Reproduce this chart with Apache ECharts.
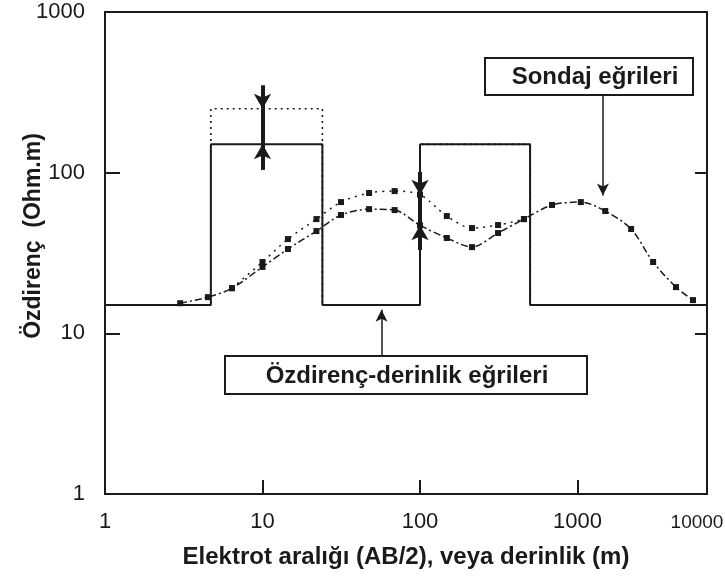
<!DOCTYPE html>
<html>
<head>
<meta charset="utf-8">
<script src="https://cdn.jsdelivr.net/npm/echarts@6/dist/echarts.min.js"></script>
<style>
  html, body { margin: 0; padding: 0; background: #fff; }
  #chart { width: 725px; height: 583px; }
</style>
</head>
<body>
<div id="chart"></div>
<script>
// axis extents (the scan's last decade is cut short, labelled 10000 at the frame edge)
const xMin = 1;
const xMax = 6640;
const yMin = 1;
const yMax = 1000;

// layered models: layer boundaries (m) and resistivities (Ohm.m)
const modelDepth = [1, 4.7, 24, 100, 500, xMax];
const modelRes = [15, 150, 15, 150, 15, 15];
const modelRes2 = [15, 250, 15, 150, 15, 15];

// sounding curve for the solid model
const abHalf = [3, 4.5, 6.4, 10, 14.5, 22, 31.5, 47.5, 69, 100, 148, 214, 313, 457, 689, 1050, 1500, 2190, 3020, 4220, 5410];
const rhoA = [15.4, 16.8, 19.1, 25.9, 33.5, 43.3, 54.5, 59.3, 58.5, 47, 39.2, 34.4, 42.1, 51.4, 62.9, 65.6, 57.7, 44.6, 27.8, 19.4, 16.1];
// sounding curve for the dotted model (where it differs)
const abHalf2 = [6.4, 10, 14.5, 22, 31.5, 47.5, 69, 100, 148, 214, 313, 457];
const rhoA2 = [19.1, 27.8, 38.6, 51.4, 65.6, 74.7, 76.8, 73, 53.7, 45.2, 47.2, 51.4];

// vertical double arrows: x, top of shaft, bottom of shaft, upper tip, lower tip
const arrowX = [10, 100];
const arrowTop = [350, 101];
const arrowBottom = [104, 33];
const arrowTipHigh = [250, 73];
const arrowTipLow = [150, 47];

const font = "'Liberation Sans', Arial, sans-serif";
const ink = "#1a1a1a";

const chart = echarts.init(document.getElementById("chart"));

const pairs = (xs, ys) => xs.map((x, i) => [x, ys[i]]);

// markLine segments for the double arrows
const arrowLines = [];
arrowX.forEach((x, i) => {
  arrowLines.push([
    { coord: [x, arrowTop[i]], symbol: "none" },
    { coord: [x, arrowTipHigh[i]], symbol: "arrow" },
  ]);
  arrowLines.push([
    { coord: [x, arrowTipHigh[i]], symbol: "none" },
    { coord: [x, arrowTipLow[i]], symbol: "none" },
  ]);
  arrowLines.push([
    { coord: [x, arrowBottom[i]], symbol: "none" },
    { coord: [x, arrowTipLow[i]], symbol: "arrow" },
  ]);
});

const option = {
  backgroundColor: "#fff",
  animation: false,
  grid: {
    left: 105,
    right: 18,
    top: 12,
    bottom: 89,
    outerBoundsMode: "none",
    containLabel: false,
    show: true,
    borderColor: ink,
    borderWidth: 2,
  },
  xAxis: {
    type: "log",
    logBase: 10,
    min: xMin,
    max: xMax,
    name: "Elektrot aralığı (AB/2), veya derinlik (m)",
    nameLocation: "middle",
    nameGap: 51,
    nameMoveOverlap: false,
    nameTextStyle: { fontFamily: font, fontSize: 24, fontWeight: "bold", color: ink },
    axisLine: { show: false },
    axisTick: { inside: true, length: 14, lineStyle: { color: ink, width: 2 } },
    splitLine: { show: false },
    axisLabel: {
      margin: 17,
      fontFamily: font,
      fontSize: 22,
      color: ink,
      formatter: (v) => (v >= 5000 ? "{s|10000}" : String(Math.round(v))),
      rich: { s: { fontFamily: font, fontSize: 19, color: ink, padding: [2, 20, 0, 0] } },
    },
  },
  yAxis: [
    {
      type: "log",
      logBase: 10,
      min: yMin,
      max: yMax,
      name: "Özdirenç  (Ohm.m)",
      nameLocation: "middle",
      nameGap: 60,
      nameRotate: 90,
      nameMoveOverlap: false,
      nameTextStyle: { fontFamily: font, fontSize: 23, fontWeight: "bold", color: ink, padding: [0, 0, 0, 34] },
      axisLine: { show: false },
      axisTick: { inside: true, length: 15, lineStyle: { color: ink, width: 2 } },
      splitLine: { show: false },
      axisLabel: {
        margin: 20,
        fontFamily: font,
        fontSize: 22,
        color: ink,
        formatter: (v) => String(Math.round(v)),
      },
    },
    {
      type: "log",
      logBase: 10,
      min: yMin,
      max: yMax,
      position: "right",
      axisLine: { show: false },
      axisTick: { inside: true, length: 12, lineStyle: { color: ink, width: 2 } },
      splitLine: { show: false },
      axisLabel: { show: false },
    },
  ],
  series: [
    {
      name: "model 2",
      type: "line",
      step: "end",
      data: pairs(modelDepth, modelRes2),
      symbol: "none",
      z: 2,
      lineStyle: { color: ink, width: 1.6, type: [2, 4] },
    },
    {
      name: "model",
      type: "line",
      step: "end",
      data: pairs(modelDepth, modelRes),
      symbol: "none",
      z: 3,
      lineStyle: { color: ink, width: 2 },
    },
    {
      name: "sounding 2",
      type: "line",
      smooth: 0.3,
      data: pairs(abHalf2, rhoA2),
      symbol: "rect",
      symbolSize: 6,
      z: 4,
      itemStyle: { color: ink },
      lineStyle: { color: ink, width: 1.5, type: [2, 5] },
    },
    {
      name: "sounding",
      type: "line",
      smooth: 0.3,
      data: pairs(abHalf, rhoA),
      symbol: "rect",
      symbolSize: 6,
      z: 5,
      itemStyle: { color: ink },
      lineStyle: { color: ink, width: 1.5, type: [7, 3, 2, 3] },
    },
    {
      name: "arrows",
      type: "line",
      data: [],
      z: 6,
      markLine: {
        silent: true,
        animation: false,
        label: { show: false },
        symbolSize: [13, 15],
        lineStyle: { color: ink, width: 4, type: "solid" },
        data: arrowLines,
      },
    },
    {
      name: "callouts",
      type: "line",
      data: [],
      z: 6,
      markLine: {
        silent: true,
        animation: false,
        label: { show: false },
        symbol: ["none", "arrow"],
        symbolSize: [9, 12],
        lineStyle: { color: ink, width: 1.5, type: "solid" },
        data: [
          [{ coord: [1450, 304] }, { coord: [1450, 72] }],
          [{ coord: [57, 7.2] }, { coord: [57, 14] }],
        ],
      },
    },
  ],
  graphic: [
    {
      type: "rect",
      shape: { x: 485, y: 58, width: 208, height: 37 },
      style: { fill: "#fff", stroke: ink, lineWidth: 2 },
      z: 10,
    },
    {
      type: "text",
      x: 595,
      y: 77,
      style: {
        text: "Sondaj eğrileri",
        font: "bold 24px " + font,
        fill: ink,
        align: "center",
        verticalAlign: "middle",
      },
      z: 11,
    },
    {
      type: "rect",
      shape: { x: 225, y: 356, width: 362, height: 38 },
      style: { fill: "#fff", stroke: ink, lineWidth: 2 },
      z: 10,
    },
    {
      type: "text",
      x: 407,
      y: 376,
      style: {
        text: "Özdirenç-derinlik eğrileri",
        font: "bold 24px " + font,
        fill: ink,
        align: "center",
        verticalAlign: "middle",
      },
      z: 11,
    },
  ],
};

chart.setOption(option);
</script>
</body>
</html>
